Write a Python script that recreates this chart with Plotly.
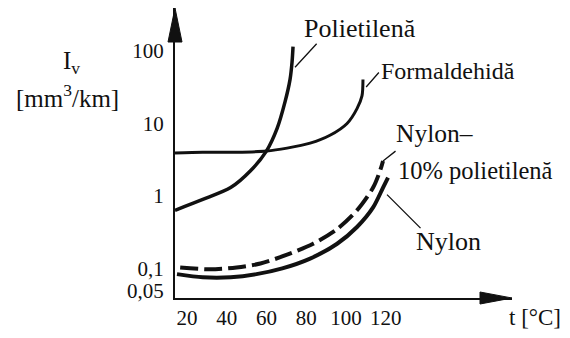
import math
import plotly.graph_objects as go

# ---- data ----
t_polietilena = [14, 28, 42, 52, 60, 65.4, 69.4, 71.9, 72.9, 73.4]
iv_polietilena = [0.64, 0.90, 1.31, 2.23, 4.15, 8.5, 19.8, 40, 69, 113]

t_formaldehida = [14, 28, 45, 60, 70.4, 82, 92, 100.6, 105.6, 108.1, 108.6]
iv_formaldehida = [3.9, 4.0, 4.0, 4.15, 4.56, 5.33, 6.84, 9.95, 15.9, 23.8, 40]

t_nylon = [15, 28, 42, 55, 68, 82, 95.6, 105.6, 113.7, 118.7, 121.2]
iv_nylon = [0.085, 0.077, 0.077, 0.085, 0.102, 0.139, 0.222, 0.377, 0.70, 1.31, 1.79]

t_nylon_pe = [16.6, 31.6, 45, 57, 70.4, 83.5, 95.6, 105.6, 113.7, 117.2, 118.7]
iv_nylon_pe = [0.105, 0.099, 0.105, 0.119, 0.157, 0.222, 0.354, 0.64, 1.31, 2.23, 3.04]

x_tick_vals = [20, 40, 60, 80, 100, 120]
x_tick_text = ["20", "40", "60", "80", "100", "120"]
y_tick_vals = [0.05, 0.1, 1, 10, 100]
y_tick_text = ["0,05", "0,1", "1", "10", "100"]

FONT = "Liberation Serif, Times New Roman, Liberation Sans, sans-serif"
BLACK = "#111111"

fig = go.Figure()

def add_curve(x, y, width, dash="solid"):
    fig.add_trace(go.Scatter(
        x=x, y=y, mode="lines",
        line=dict(color=BLACK, width=width, dash=dash, shape="spline", smoothing=0.8),
        showlegend=False, hoverinfo="skip"))

add_curve(t_polietilena, iv_polietilena, 3.5)
add_curve(t_formaldehida, iv_formaldehida, 3)
add_curve(t_nylon, iv_nylon, 4)
add_curve(t_nylon_pe, iv_nylon_pe, 4, dash="18px,6px")

# leader lines from a curve point (data) to its label (pixel offset)
leaders = [
    (74.4, 58.8, 23, -25),    # Polietilenă
    (110.2, 31.5, 14, -16),   # Formaldehidă
    (118.7, 3.04, 14, -11),   # Nylon-10% polietilenă
    (120.7, 1.05, 35, 35),    # Nylon
]
for lx, ly, dx, dy in leaders:
    fig.add_annotation(x=lx, y=math.log10(ly), xref="x", yref="y", text="",
                       showarrow=True, arrowhead=0, arrowwidth=1.3, arrowcolor=BLACK,
                       ax=dx, ay=dy, standoff=0, startstandoff=0)

# plot area in pixels: left 175, right 512, top 8, bottom 302
L, R, T, B = 175, 512, 8, 302
W, H = R - L, B - T

def px(xp):
    return (xp - L) / W

def py(yp):
    return (B - yp) / H

labels = [
    ("Polietilenă", 302, 29, "left", 26),
    ("Formaldehidă", 379, 72, "left", 24),
    ("Nylon–", 394, 135, "left", 25.5),
    ("10% polietilenă", 396, 173, "left", 24.5),
    ("Nylon", 414, 245, "left", 26),
    ("t [°C]", 507, 322, "left", 23),
    ("I<sub>v</sub>", 71, 63, "center", 25),
    ("[mm<sup>3</sup>/km]", 68, 97, "center", 25),
]
for txt, xp, yp, anchor, size in labels:
    fig.add_annotation(x=px(xp), y=py(yp), xref="paper", yref="paper", text=txt,
                       showarrow=False, xanchor=anchor, yanchor="middle",
                       font=dict(family=FONT, size=size, color=BLACK))

# axis arrowheads
fig.add_shape(type="path", xref="paper", yref="paper", xsizemode="pixel", ysizemode="pixel",
              xanchor=0, yanchor=1, path="M -7,-34 L 0,0 L 7,-34 Z",
              fillcolor=BLACK, line=dict(color=BLACK, width=1))
fig.add_shape(type="path", xref="paper", yref="paper", xsizemode="pixel", ysizemode="pixel",
              xanchor=1, yanchor=0, path="M -32,-6 L 0,0 L -32,6 Z",
              fillcolor=BLACK, line=dict(color=BLACK, width=1))

fig.update_layout(
    width=570, height=338,
    margin=dict(l=L, r=570 - R, t=T, b=338 - B),
    paper_bgcolor="white", plot_bgcolor="white",
    font=dict(family=FONT, color=BLACK),
    xaxis=dict(range=[14.0, 183.6], showgrid=False, zeroline=False,
               showline=True, linecolor=BLACK, linewidth=2,
               tickmode="array", tickvals=x_tick_vals, ticktext=x_tick_text,
               ticks="", tickangle=0, tickfont=dict(family=FONT, size=21, color=BLACK)),
    yaxis=dict(type="log", range=[-1.398, 2.582], showgrid=False, zeroline=False,
               showline=True, linecolor=BLACK, linewidth=2,
               tickmode="array", tickvals=y_tick_vals, ticktext=y_tick_text,
               ticks="", ticklabelstandoff=5,
               tickfont=dict(family=FONT, size=21, color=BLACK)),
)

fig.write_html("out.html")
